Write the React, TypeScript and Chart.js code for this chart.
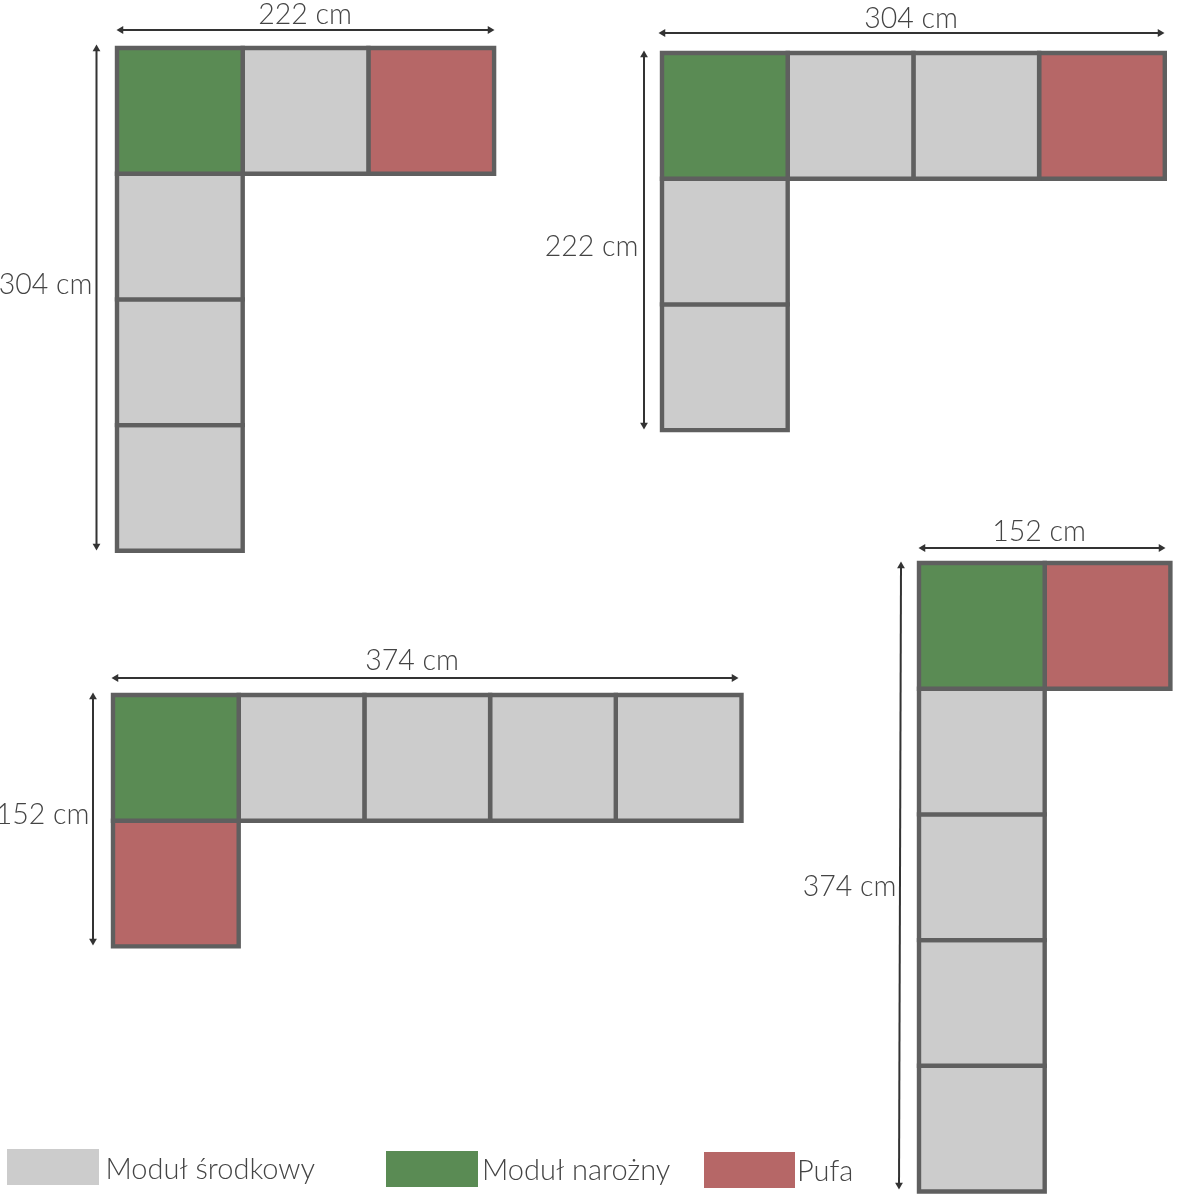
import { useEffect, useRef } from "react"
import { Chart, registerables } from "chart.js"

Chart.register(...registerables)

// module kinds, in legend order
const kindNames = ["Moduł środkowy", "Moduł narożny", "Pufa"]

// [column, row, kind index] of every module of each arrangement
const cellsA = [[0, 0, 1], [1, 0, 0], [2, 0, 2], [0, 1, 0], [0, 2, 0], [0, 3, 0]]
const cellsB = [[0, 0, 1], [1, 0, 0], [2, 0, 0], [3, 0, 2], [0, 1, 0], [0, 2, 0]]
const cellsC = [[0, 0, 1], [1, 0, 0], [2, 0, 0], [3, 0, 0], [4, 0, 0], [0, 1, 2]]
const cellsD = [[0, 0, 1], [1, 0, 2], [0, 1, 0], [0, 2, 0], [0, 3, 0], [0, 4, 0]]

// dimension labels
const widthLabels = ["222 cm", "304 cm", "374 cm", "152 cm"]
const heightLabels = ["304 cm", "222 cm", "152 cm", "374 cm"]

// drawing layout, the axes run in page pixels
const kindColors = ["#cccccc", "#5a8b54", "#b66767"]
const borderColor = "#5f5f5f"
const arrowColor = "#333333"
const textColor = "#444444"
const dimFont = '300 28.5px Lato, "Open Sans", sans-serif'
const legendFont = '300 29px Lato, "Open Sans", sans-serif'
const cellSize = 125.7

const layouts = [
  { cells: cellsA, x: 117, y: 48, hArrow: [121, 490, 30], vArrow: [96.5, 96.5, 49, 546], wText: [305, 15], hText: [92.5, 285] },
  { cells: cellsB, x: 662, y: 53, hArrow: [663, 1160, 33], vArrow: [644, 644, 55, 425], wText: [911, 19], hText: [638.5, 247] },
  { cells: cellsC, x: 113, y: 695, hArrow: [116, 734, 678], vArrow: [93, 93, 697, 941], wText: [412, 661], hText: [89.5, 815] },
  { cells: cellsD, x: 919, y: 563, hArrow: [923, 1161, 548], vArrow: [901, 899, 566, 1185], wText: [1039, 532], hText: [896.5, 887] },
]

const legendBoxes = [
  { x0: 7, x1: 99, y0: 1149, y1: 1185, textX: 105.5, textY: 1170 },
  { x0: 386, x1: 478, y0: 1151, y1: 1187, textX: 482, textY: 1171 },
  { x0: 704, x1: 795, y0: 1152, y1: 1188, textX: 797, textY: 1172 },
]

const box = (x0: number, y0: number, x1: number, y1: number) => [
  { x: x0, y: y0 },
  { x: x1, y: y0 },
  { x: x1, y: y1 },
  { x: x0, y: y1 },
  { x: x0, y: y0 },
]

const cellDatasets = layouts.flatMap((l) =>
  l.cells.map(([col, row, kind]) => ({
    data: box(l.x + col * cellSize, l.y + row * cellSize, l.x + (col + 1) * cellSize, l.y + (row + 1) * cellSize),
    backgroundColor: kindColors[kind],
    borderColor,
    borderWidth: 4.4,
    borderCapStyle: "square" as const,
    borderJoinStyle: "miter" as const,
    fill: "shape",
    pointRadius: 0,
    tension: 0,
  }))
)

const legendDatasets = legendBoxes.map((b, i) => ({
  data: box(b.x0, b.y0, b.x1, b.y1),
  backgroundColor: kindColors[i],
  borderWidth: 0,
  fill: "shape",
  pointRadius: 0,
  tension: 0,
}))

const arrow = (data: { x: number; y: number }[], rotation: number[]) => ({
  data,
  borderColor: arrowColor,
  backgroundColor: arrowColor,
  borderWidth: 2,
  fill: false,
  pointStyle: "triangle" as const,
  pointRadius: 4.5,
  pointBorderWidth: 0,
  pointRotation: rotation,
  tension: 0,
})

const arrowDatasets = layouts.flatMap((l) => [
  arrow([{ x: l.hArrow[0], y: l.hArrow[2] }, { x: l.hArrow[1], y: l.hArrow[2] }], [-90, 90]),
  arrow([{ x: l.vArrow[0], y: l.vArrow[2] }, { x: l.vArrow[1], y: l.vArrow[3] }], [0, 180]),
])

// dimension and legend text, placed through the same scales
const labelPlugin = {
  id: "labels",
  afterDatasetsDraw(chart: Chart) {
    const { ctx, scales } = chart
    const put = (text: string, x: number, y: number, align: CanvasTextAlign) => {
      ctx.textAlign = align
      ctx.fillText(text, scales.x.getPixelForValue(x), scales.y.getPixelForValue(y))
    }
    ctx.save()
    ctx.fillStyle = textColor
    ctx.textBaseline = "middle"
    ctx.font = dimFont
    layouts.forEach((l, i) => {
      put(widthLabels[i], l.wText[0], l.wText[1], "center")
      put(heightLabels[i], l.hText[0], l.hText[1], "right")
    })
    ctx.font = legendFont
    legendBoxes.forEach((b, i) => put(kindNames[i], b.textX, b.textY, "left"))
    ctx.restore()
  },
}

export default function App() {
  const chartRef = useRef<HTMLCanvasElement>(null)

  useEffect(() => {
    if (!chartRef.current) return
    document.body.style.margin = "0"

    const chart = new Chart(chartRef.current, {
      type: "line",
      data: { datasets: [...cellDatasets, ...legendDatasets, ...arrowDatasets] as any },
      options: {
        animation: false,
        responsive: false,
        parsing: false,
        layout: { padding: 0, autoPadding: false },
        scales: {
          x: { type: "linear", min: 0, max: 1179, display: false },
          y: { type: "linear", min: 0, max: 1200, reverse: true, display: false },
        },
        plugins: { legend: { display: false }, tooltip: { enabled: false } },
      },
      plugins: [labelPlugin],
    })

    return () => chart.destroy()
  }, [])

  return <canvas ref={chartRef} width={1179} height={1200} style={{ display: "block" }} />
}
